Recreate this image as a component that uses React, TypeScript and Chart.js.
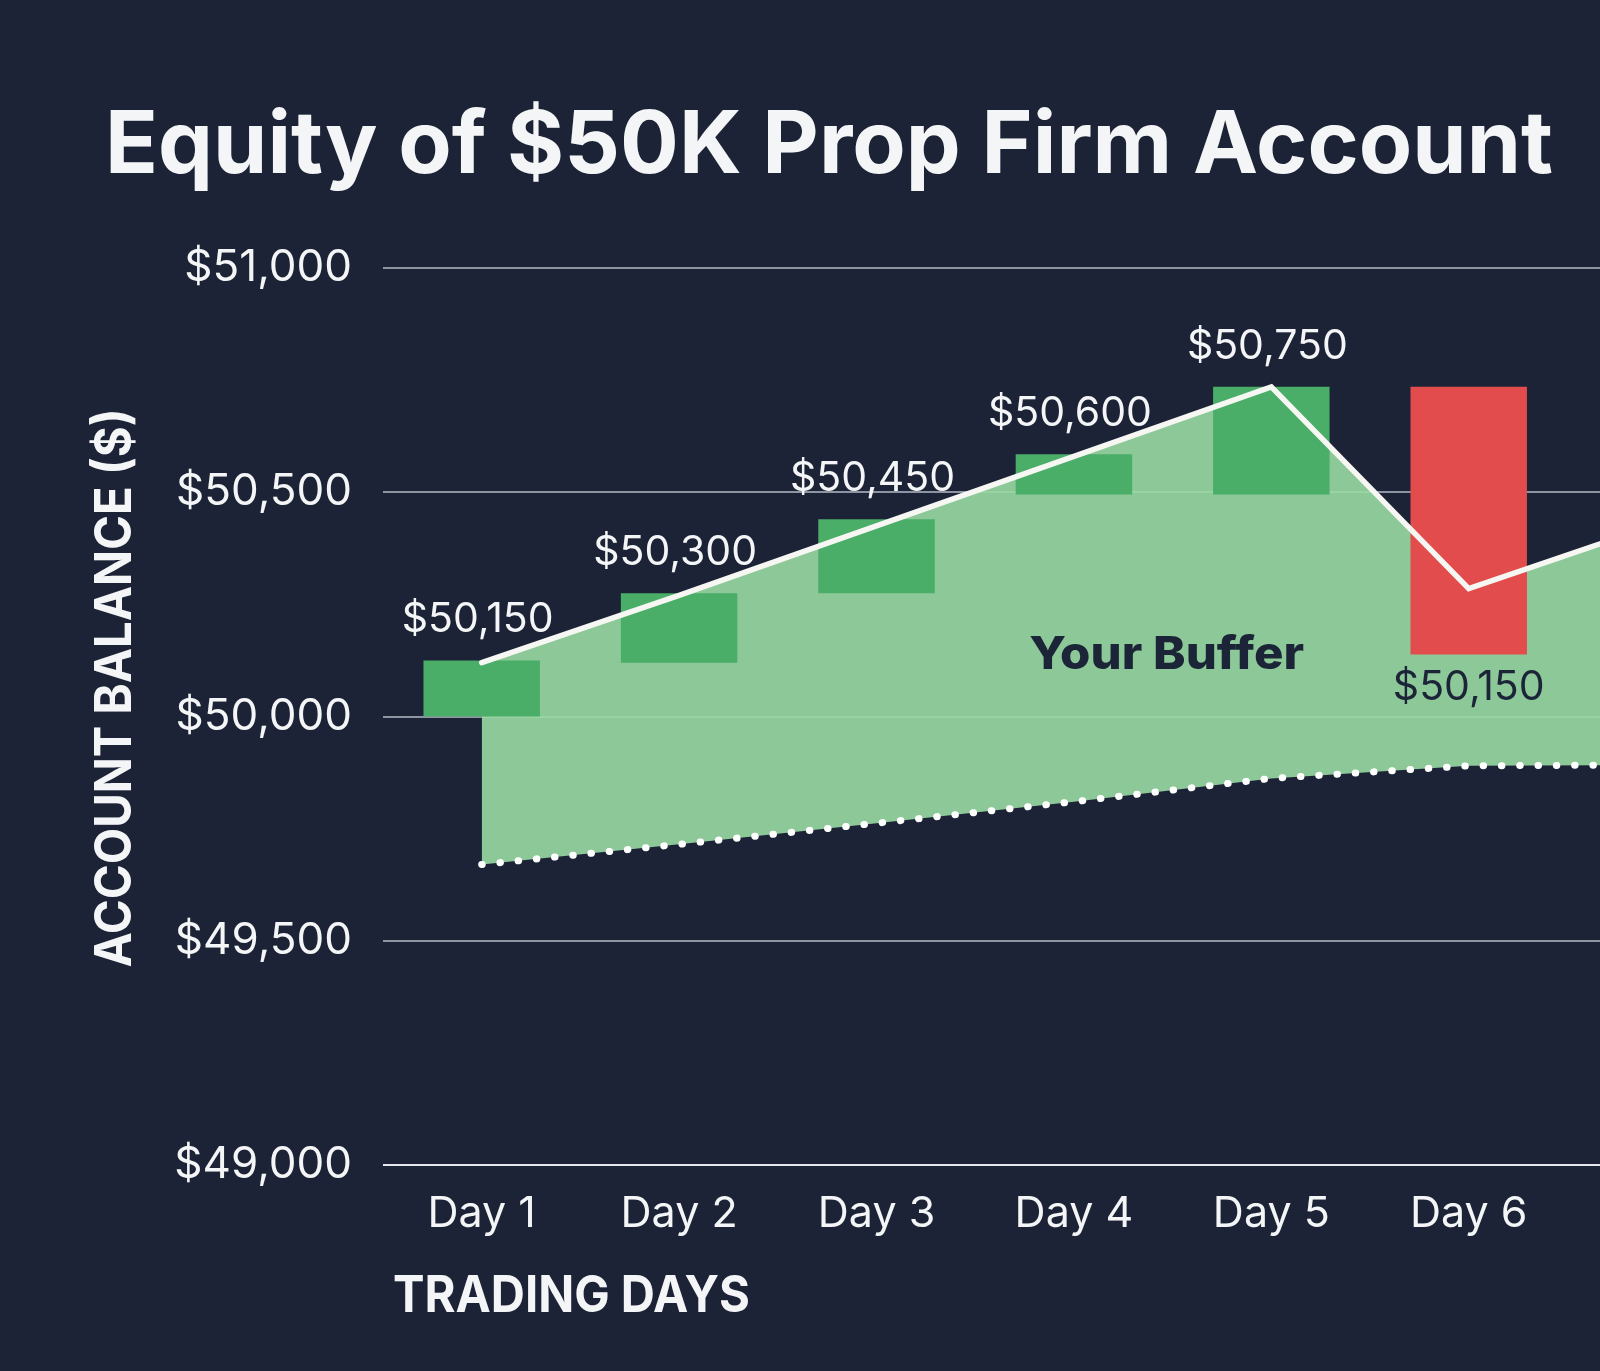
import React, { useEffect, useRef } from 'react';
import { Chart, registerables } from 'chart.js';

Chart.register(...registerables);

const FONT = "Inter, 'Noto Sans', sans-serif";
Chart.defaults.font.family = FONT;

// Chart data
const dayNames = ['Day 1', 'Day 2', 'Day 3', 'Day 4', 'Day 5', 'Day 6', 'Day 7'];
const dayIndex = [1, 2, 3, 4, 5, 6, 7];
const balanceValues = [50120, 50270, 50425, 50580, 50735, 50285, 50435];
const trailingFloor = [49670, 49715, 49762, 49810, 49862, 49890, 49892];
const barFrom = [50000, 50120, 50275, 50495, 50495, 50735];
const barTo = [50125, 50275, 50440, 50585, 50735, 50138];
const barLabels = ['$50,150', '$50,300', '$50,450', '$50,600', '$50,750', '$50,150'];
const yTickValues = [49000, 49500, 50000, 50500, 51000];
const bufferLabelAt = { x: 4.47, y: 50105 };

const X_MAX = 6.665;

const BG = '#1c2336';
const TEXT = '#f4f5f6';
const DARK = '#1c2438';
const GREEN = '#4aae69';
const RED = '#e24c4c';
const FILL = 'rgba(153, 218, 163, 0.9)';

// draws text squeezed/stretched to a given width
function drawFitted(
  ctx: CanvasRenderingContext2D,
  text: string,
  x: number,
  y: number,
  width: number,
  font: string,
  color: string,
  angle = 0,
  align: CanvasTextAlign = 'left'
) {
  ctx.save();
  ctx.font = font;
  ctx.fillStyle = color;
  ctx.textBaseline = 'alphabetic';
  ctx.textAlign = align;
  const w = ctx.measureText(text).width;
  ctx.translate(x, y);
  if (angle) ctx.rotate(angle);
  ctx.scale(width / w, 1);
  ctx.fillText(text, 0, 0);
  ctx.restore();
}

const overlayPlugin = {
  id: 'overlayText',
  beforeDraw(chart: any) {
    const { ctx, width, height } = chart;
    ctx.save();
    ctx.fillStyle = BG;
    ctx.fillRect(0, 0, width, height);
    ctx.restore();
  },
  afterDatasetsDraw(chart: any) {
    const { ctx } = chart;
    const x = chart.scales.x;
    const y = chart.scales.y;
    ctx.save();
    ctx.font = `400 41px ${FONT}`;
    ctx.textAlign = 'center';
    ctx.textBaseline = 'alphabetic';
    barFrom.forEach((from, i) => {
      const to = barTo[i];
      const px = x.getPixelForValue(dayIndex[i]);
      if (to >= from) {
        ctx.fillStyle = TEXT;
        ctx.fillText(barLabels[i], px - 4, y.getPixelForValue(Math.max(from, to)) - 28);
      } else {
        ctx.fillStyle = DARK;
        ctx.fillText(barLabels[i], px, y.getPixelForValue(Math.min(from, to)) + 45);
      }
    });
    ctx.restore();

    drawFitted(
      ctx,
      'Your Buffer',
      x.getPixelForValue(bufferLabelAt.x),
      y.getPixelForValue(bufferLabelAt.y),
      275,
      `800 45px ${FONT}`,
      DARK,
      0,
      'center'
    );
  },
  afterDraw(chart: any) {
    const { ctx } = chart;
    drawFitted(ctx, 'Equity of $50K Prop Firm Account', 105, 173, 1448, `700 87px ${FONT}`, TEXT);
    drawFitted(ctx, 'ACCOUNT BALANCE ($)', 131, 688, 559, `700 51px ${FONT}`, TEXT, -Math.PI / 2, 'center');
    drawFitted(ctx, 'TRADING DAYS', 393, 1312, 357, `700 51px ${FONT}`, TEXT);
  },
};

const EquityChart: React.FC = () => {
  const canvasRef = useRef<HTMLCanvasElement>(null);
  const chartRef = useRef<Chart | null>(null);

  useEffect(() => {
    document.body.style.margin = '0';
    document.body.style.background = BG;
    if (!canvasRef.current) return;
    const ctx = canvasRef.current.getContext('2d');
    if (!ctx) return;

    const config: any = {
      type: 'bar',
      data: {
        datasets: [
          {
            type: 'line',
            label: 'Balance',
            data: dayIndex.map((d, i) => ({ x: d, y: balanceValues[i] })),
            borderColor: '#f6f6f2',
            borderWidth: 5.5,
            borderCapStyle: 'round',
            borderJoinStyle: 'miter',
            pointRadius: 0,
            tension: 0,
            fill: '+1',
            backgroundColor: FILL,
            order: 0,
          },
          {
            type: 'line',
            label: 'Trailing floor',
            data: dayIndex.map((d, i) => ({ x: d, y: trailingFloor[i] })),
            borderColor: '#ffffff',
            borderWidth: 7,
            borderDash: [0.5, 17.8],
            borderCapStyle: 'round',
            pointRadius: 0,
            tension: 0,
            fill: false,
            order: 1,
          },
          {
            type: 'bar',
            label: 'Daily change',
            data: barFrom.map((f, i) => ({ x: dayIndex[i], y: [f, barTo[i]] })),
            backgroundColor: barFrom.map((f, i) => (barTo[i] < f ? RED : GREEN)),
            borderWidth: 0,
            borderSkipped: false,
            barPercentage: 1,
            categoryPercentage: 0.59,
            order: 2,
          },
        ],
      },
      options: {
        responsive: true,
        maintainAspectRatio: false,
        animation: false,
        layout: { padding: { top: 268, left: 0, right: 0, bottom: 0 } },
        plugins: {
          legend: { display: false },
          tooltip: { enabled: false },
          title: { display: false },
          filler: { drawTime: 'beforeDatasetsDraw' },
        },
        scales: {
          x: {
            type: 'linear',
            min: 0.5,
            max: X_MAX,
            offset: false,
            grid: { display: false, drawTicks: false, offset: false },
            border: { display: false },
            afterBuildTicks: (s: any) => {
              s.ticks = dayIndex.filter((v) => v <= X_MAX).map((v) => ({ value: v }));
            },
            afterFit: (s: any) => {
              s.height = 206;
            },
            ticks: {
              color: TEXT,
              font: { size: 43, weight: 400 },
              padding: 23,
              autoSkip: false,
              maxRotation: 0,
              callback: (v: any) => dayNames[Number(v) - 1] ?? '',
            },
          },
          y: {
            type: 'linear',
            min: 49000,
            max: 51000,
            afterBuildTicks: (s: any) => {
              s.ticks = yTickValues.map((v) => ({ value: v }));
            },
            afterFit: (s: any) => {
              s.width = 383;
            },
            grid: {
              color: (c: any) =>
                c.tick && c.tick.value === 49000 ? '#e4e7ec' : 'rgba(170, 176, 190, 0.8)',
              lineWidth: 2,
              drawTicks: false,
            },
            border: { display: false },
            ticks: {
              color: TEXT,
              font: { size: 44, weight: 400 },
              padding: 31,
              callback: (v: any) => '$' + Number(v).toLocaleString('en-US'),
            },
          },
        },
      },
      plugins: [overlayPlugin],
    };

    chartRef.current = new Chart(ctx, config);

    return () => {
      if (chartRef.current) {
        chartRef.current.destroy();
        chartRef.current = null;
      }
    };
  }, []);

  return (
    <div style={{ position: 'relative', width: 1600, height: 1371, background: BG }}>
      <canvas ref={canvasRef} />
    </div>
  );
};

export default function App() {
  return <EquityChart />;
}
